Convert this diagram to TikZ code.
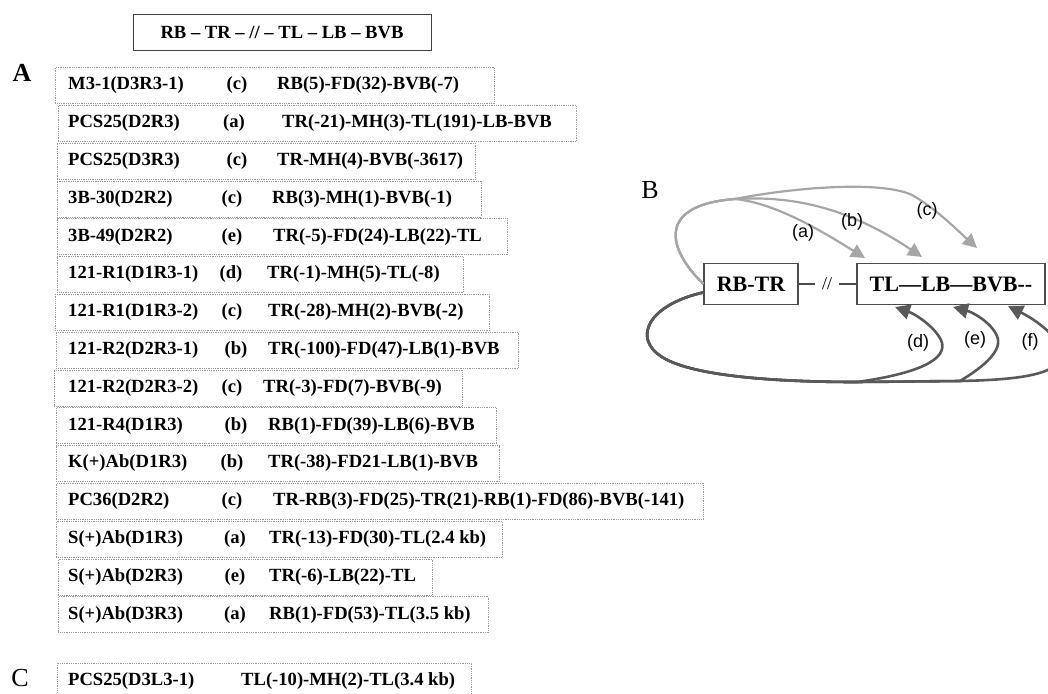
\documentclass[tikz,border=0pt]{standalone}
\usepackage{fontspec}
\setmainfont{Liberation Serif}
\newfontfamily\labelfont{Liberation Sans}
\usetikzlibrary{arrows.meta}

\begin{document}
\begin{tikzpicture}[
x=1pt, y=-1pt,
every node/.style={
inner sep=0pt,
font=\bfseries\fontsize{18.6}{20}\selectfont
},
rowbox/.style={draw=gray!80, densely dotted, line width=0.8pt, minimum height=36pt, anchor=west},
keybox/.style={draw=black!75, line width=1pt, minimum width=298pt, minimum height=36pt},
bbox/.style={draw=black!70, line width=1.1pt, minimum height=41pt, font=\bfseries\fontsize{22}{24}\selectfont},
panel/.style={font=\fontsize{26}{28}\selectfont},
arclabel/.style={font=\labelfont\fontsize{18}{20}\selectfont},
lightarc/.style={draw=black!35, line width=2.2pt, -{Triangle[length=14pt,width=14pt]}},
darkarc/.style={draw=black!65, line width=2.6pt, -{Triangle[length=15pt,width=15pt]}}
]
\clip (0,0) rectangle (1048,693);

\node[keybox] (key) at (282,33) {RB – TR – // – TL – LB – BVB};

\node[panel, font=\bfseries\fontsize{26}{28}\selectfont] (A) at (22,73) {A};
\node[panel] (B) at (650,190) {B};
\node[panel] (C) at (20,678) {C};

% panel A
\foreach \i/\l/\r/\lx/\sx/\nm/\lt/\sq in {
1/55/494/237/277/M3-1(D3R3-1)/(c)/RB(5)-FD(32)-BVB(-7),
2/58/576/234/282/PCS25(D2R3)/(a)/TR(-21)-MH(3)-TL(191)-LB-BVB,
3/57/475/237/277/PCS25(D3R3)/(c)/TR-MH(4)-BVB(-3617),
4/57/481/232/272/3B-30(D2R2)/(c)/RB(3)-MH(1)-BVB(-1),
5/57/507/232/273/3B-49(D2R2)/(e)/TR(-5)-FD(24)-LB(22)-TL,
6/57/463/231/267/121-R1(D1R3-1)/(d)/TR(-1)-MH(5)-TL(-8),
7/55/489/232/268/121-R1(D1R3-2)/(c)/TR(-28)-MH(2)-BVB(-2),
8/56/518/236/268/121-R2(D2R3-1)/(b)/TR(-100)-FD(47)-LB(1)-BVB,
9/54/462/232/263/121-R2(D2R3-2)/(c)/TR(-3)-FD(7)-BVB(-9),
10/56/496/236/268/121-R4(D1R3)/(b)/RB(1)-FD(39)-LB(6)-BVB,
11/56/499/232/268/K(+)Ab(D1R3)/(b)/TR(-38)-FD21-LB(1)-BVB,
12/56/703/232/273/PC36(D2R2)/(c)/TR-RB(3)-FD(25)-TR(21)-RB(1)-FD(86)-BVB(-141),
13/56/502/235/269/S(+)Ab(D1R3)/(a)/TR(-13)-FD(30)-TL(2.4 kb),
14/58/432/235/269/S(+)Ab(D2R3)/(e)/TR(-6)-LB(22)-TL,
15/58/488/235/269/S(+)Ab(D3R3)/(a)/RB(1)-FD(53)-TL(3.5 kb)} {
\pgfmathsetmacro\yy{85.5+37.8*(\i-1)}
\pgfmathsetmacro\ww{\r-\l}
\node[rowbox, minimum width=\ww pt] (row\i) at (\l,\yy) {};
\node[anchor=west] (nm\i) at (68,\yy) {\nm};
\node (lt\i) at (\lx,\yy) {\lt};
\node[anchor=west] (sq\i) at (\sx,\yy) {\sq};
}

% panel C
\node[rowbox, minimum width=414pt] (rowC) at (57,681) {};
\node[anchor=west] (nmC) at (68,681) {PCS25(D3L3-1)};
\node[anchor=west] (sqC) at (241,681) {TL(-10)-MH(2)-TL(3.4 kb)};

% panel B
\node[bbox, minimum width=94pt] (rbtr) at (751,284) {RB-TR};
\node[bbox, minimum width=188pt] (seq) at (951,284) {TL—LB—BVB-{}-};
\node[font=\fontsize{18}{20}\selectfont, inner xsep=7pt] (slash) at (827,284) {//};
\draw[black!70, line width=1.1pt] (rbtr) -- (slash) -- (seq);

\coordinate (ta) at (865,258);
\coordinate (tb) at (922,257);
\coordinate (tc) at (977,248);
\coordinate (td) at (895,307);
\coordinate (te) at (953,307);
\coordinate (tf) at (1008,306);

\draw[lightarc] (rbtr.west) .. controls (668,250) and (655,205) .. (735,199)
.. controls (775,203) and (820,230) .. (ta);
\draw[lightarc] (rbtr.west) .. controls (668,250) and (655,205) .. (735,199)
.. controls (800,195) and (855,212) .. (tb);
\draw[lightarc] (rbtr.west) .. controls (668,250) and (655,205) .. (735,199)
.. controls (790,188) and (880,180) .. (912,195)
.. controls (935,208) and (955,228) .. (tc);

\draw[darkarc] (rbtr.190) .. controls (648,305) and (632,338) .. (662,357)
.. controls (695,378) and (790,382) .. (857,382)
.. controls (915,374) and (950,360) .. (941,340)
.. controls (934,326) and (915,314) .. (td);
\draw[darkarc] (rbtr.190) .. controls (648,305) and (632,338) .. (662,357)
.. controls (695,378) and (790,382) .. (857,382)
-- (960,381)
.. controls (985,366) and (1003,350) .. (997,336)
.. controls (991,322) and (972,312) .. (te);
\draw[darkarc] (rbtr.190) .. controls (648,305) and (632,338) .. (662,357)
.. controls (695,378) and (790,382) .. (857,382)
-- (960,381)
.. controls (1010,380) and (1052,376) .. (1060,360)
.. controls (1068,344) and (1040,322) .. (tf);

\node[arclabel] (la) at (803,233) {(a)};
\node[arclabel] (lb) at (852,222) {(b)};
\node[arclabel] (lc) at (927,211) {(c)};
\node[arclabel] (ld) at (918,343) {(d)};
\node[arclabel] (le) at (975,340) {(e)};
\node[arclabel] (lf) at (1030,342) {(f)};

\end{tikzpicture}
\end{document}
